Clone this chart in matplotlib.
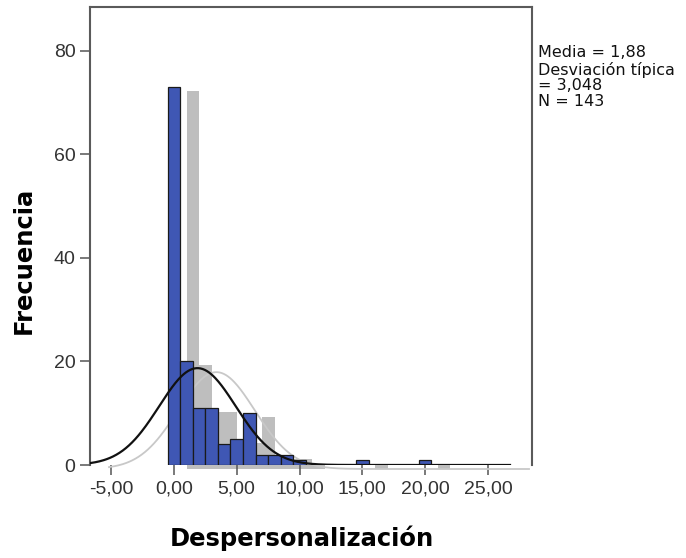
import numpy as np
import matplotlib.pyplot as plt
import matplotlib.transforms as mtransforms

# histogram data (bin centres, width 1)
valores = [0, 1, 2, 3, 4, 5, 6, 7, 8, 9, 10, 15, 20]
frecuencias = [73, 20, 11, 11, 4, 5, 10, 2, 2, 2, 1, 1, 1]
media = 1.88
desv = 3.048
n = 143

xticks = [-5, 0, 5, 10, 15, 20, 25]
xticklabels = ['-5,00', '0,00', '5,00', '10,00', '15,00', '20,00', '25,00']
yticks = [0, 20, 40, 60, 80]

fig = plt.figure(figsize=(6.86, 5.58), dpi=100)
ax = fig.add_axes([90 / 686, 1 - 465 / 558, 442 / 686, 458 / 558])
xmin, xmax = -6.67, 28.5
ax.set_xlim(xmin, xmax)
ax.set_ylim(0, 88.5)

# shadow copy (offset right / down)
shadow = mtransforms.offset_copy(ax.transData, fig=fig, x=19, y=-4, units='dots')

xs = np.linspace(xmin, 26.75, 400)
ys = n * 1.0 / (desv * np.sqrt(2 * np.pi)) * np.exp(-0.5 * ((xs - media) / desv) ** 2)

ax.bar(valores, frecuencias, width=1.0, color='#bebebe', edgecolor='none',
       transform=shadow, clip_on=False, zorder=1)
ax.plot(xs, ys, color='#c8c8c8', lw=1.3, transform=shadow, clip_on=False, zorder=2)
ax.bar(valores, frecuencias, width=1.0, color='#3f57b4', edgecolor='#1a1a1a',
       linewidth=0.9, zorder=3)
ax.plot(xs, ys, color='#111111', lw=1.6, zorder=4)

ax.set_xticks(xticks)
ax.set_xticklabels(xticklabels, fontfamily='Liberation Sans')
ax.set_yticks(yticks)
ax.set_yticklabels([str(v) for v in yticks], fontfamily='Liberation Sans')
ax.tick_params(axis='both', direction='out', length=7.5, width=1.1,
               color='#555555', labelcolor='#333333', labelsize=14)
ax.tick_params(axis='y', pad=3)
ax.tick_params(axis='x', pad=4)

for side in ['left', 'top', 'right']:
    ax.spines[side].set_color('#5a5a5a')
    ax.spines[side].set_linewidth(1.5)
ax.spines['bottom'].set_visible(False)

fig.text(301.5 / 686, 1 - 546 / 558, 'Despersonalización', ha='center',
         va='baseline', fontsize=17.5, fontweight='bold', family='DejaVu Sans')
fig.text(24 / 686, 1 - 260 / 558, 'Frecuencia', ha='center', va='center',
         rotation=90, fontsize=17.5, fontweight='bold', family='DejaVu Sans')

lineas = ['Media = 1,88', 'Desviación típica', '= 3,048', 'N = 143']
bases = [57, 75, 90, 106]
for txt, b in zip(lineas, bases):
    fig.text(538 / 686, 1 - b / 558, txt, ha='left', va='baseline',
             fontsize=11.5, family='DejaVu Sans', color='#111111')

fig.savefig('out.png', dpi=100)
